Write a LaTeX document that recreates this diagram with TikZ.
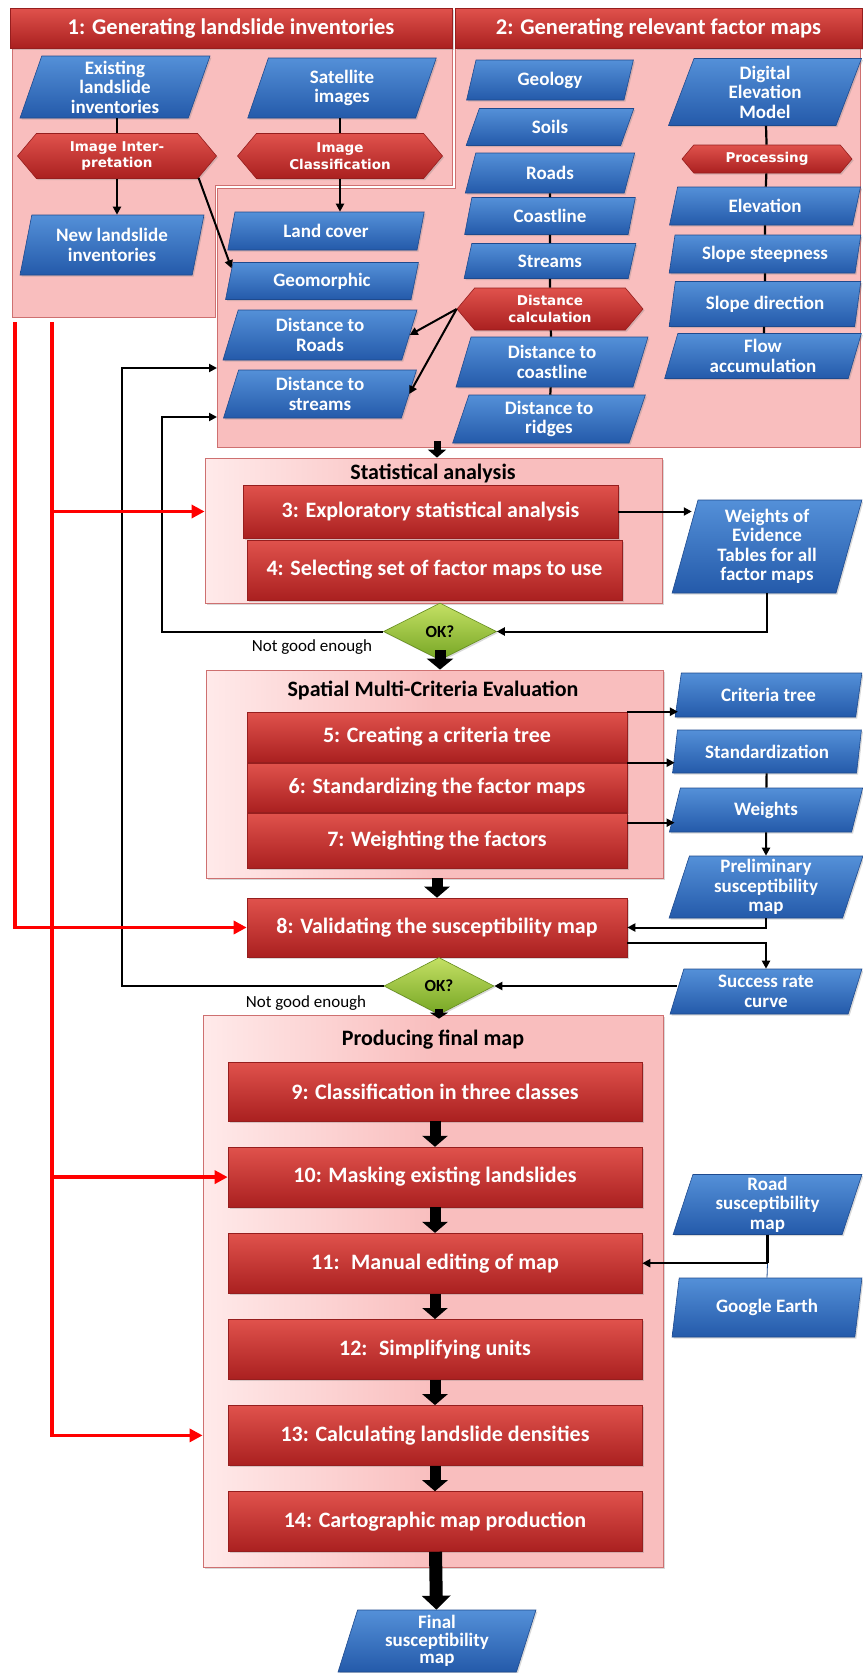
\documentclass[tikz,border=0pt]{standalone}
\usepackage{fontspec}
\setmainfont{Carlito}
\newfontfamily\hexfont{DejaVu Sans}
\usepackage{tikz}
\usetikzlibrary{arrows.meta, positioning, shapes.geometric, shapes.symbols, shadows}
\definecolor{redtop}{RGB}{224,82,76}
\definecolor{redbot}{RGB}{170,32,32}
\definecolor{rededge}{RGB}{150,30,30}
\definecolor{bluetop}{RGB}{84,144,216}
\definecolor{bluebot}{RGB}{36,90,170}
\definecolor{blueedge}{RGB}{30,74,142}
\definecolor{sectpink}{RGB}{249,190,190}
\definecolor{pinklt}{RGB}{255,234,234}
\definecolor{pinkedge}{RGB}{206,112,112}
\definecolor{greentop}{RGB}{196,224,100}
\definecolor{greenbot}{RGB}{118,166,36}
\definecolor{greenedge}{RGB}{100,140,30}
\definecolor{flowred}{RGB}{255,0,0}

\begin{document}
\begin{tikzpicture}[
  x=1pt, y=-1pt,
  node distance=25.5pt,
  wh/.style 2 args={minimum width=#1pt, minimum height=#2pt},
  lifted/.style={drop shadow={opacity=0.3, shadow xshift=1.5pt, shadow yshift=-1.5pt}},
  databox/.style={trapezium, trapezium left angle=76, trapezium right angle=104,
    trapezium stretches=true, draw=blueedge, line width=0.6pt,
    top color=bluetop, bottom color=bluebot, text=white, align=center,
    inner sep=0pt, lifted, font=\fontsize{19}{19.5}\selectfont\bfseries},
  stepbox/.style={rectangle, draw=rededge, line width=0.6pt,
    top color=redtop, bottom color=redbot, text=white, align=center,
    inner sep=0pt, lifted, font=\fontsize{22}{24}\selectfont\bfseries},
  procbox/.style={signal, signal from=nowhere, signal to=east and west,
    signal pointer angle=100, draw=rededge, line width=0.6pt,
    top color=redtop, bottom color=redbot, text=white, align=center,
    inner sep=0pt, lifted, font=\hexfont\fontsize{13.5}{16.5}\selectfont\bfseries},
  stage/.style={rectangle, draw=pinkedge, line width=0.8pt,
    left color=pinklt, right color=sectpink, middle color=sectpink, lifted},
  stagetitle/.style={font=\fontsize{22}{24}\selectfont\bfseries},
  okcheck/.style={diamond, draw=greenedge, line width=0.6pt, top color=greentop,
    bottom color=greenbot, inner sep=0pt, lifted,
    font=\fontsize{17}{18}\selectfont\bfseries},
  note/.style={font=\fontsize{17}{19}\selectfont},
  sectionbg/.style={fill=sectpink, draw=pinkedge, line width=1pt},
  link/.style={line width=2.2pt},
  arrow/.style={-{Triangle[length=8pt, width=8pt]}, line width=2pt},
  bigarrow/.style={-{Triangle[length=11pt, width=25pt]}, line width=11pt},
  redarrow/.style={-{Triangle[length=13pt, width=13pt]}, line width=3.5pt, color=flowred}
]
\useasboundingbox (0,0) rectangle (862,1673);

% areas of steps 1 and 2
\filldraw[sectionbg] (12,48) -- (452,48) -- (452,185) -- (215,185) -- (215,317) -- (12,317) -- cycle;
\filldraw[sectionbg] (455,48) -- (860,48) -- (860,447) -- (217,447) -- (217,188) -- (455,188) -- cycle;
\node[stepbox, wh={442}{40}, font=\fontsize{22.5}{24}\selectfont\bfseries] (bar1) at (231,28) {1: Generating landslide inventories};
\node[stepbox, wh={407}{40}, font=\fontsize{22.5}{24}\selectfont\bfseries] (bar2) at (658.5,28) {2: Generating relevant factor maps};

\coordinate (redA) at (15,322);
\coordinate (redB) at (52,322);
\coordinate (sec2in1) at (217,368);
\coordinate (sec2in2) at (217,417);
\coordinate (sec2foot) at (437,441);

% step 1
\node[databox, wh={190}{62}] (exist) at (115,87) {Existing\\landslide\\inventories};
\node[databox, wh={190}{60}] (sat) at (342,88) {Satellite\\images};
\node[procbox, wh={199}{45}] (interp) at (117,156) {Image Inter-\\pretation};
\node[procbox, wh={205}{45}] (classif) at (340,156) {Image\\Classification};
\node[databox, wh={184}{60}] (newinv) at (112,245) {New landslide\\inventories};

% step 2
\node[databox, wh={198}{38}] (landcov) at (326,231) {Land cover};
\node[databox, wh={193}{37}] (geomorph) at (322,281) {Geomorphic};
\node[databox, wh={194}{50}] (distroads) at (320,335) {Distance to\\Roads};
\node[databox, wh={193}{48}] (diststreams) at (320,394) {Distance to\\streams};

\node[databox, wh={168}{40}] (geology) at (550,80) {Geology};
\node[databox, wh={168}{37}] (soils) at (550,127) {Soils};
\node[databox, wh={170}{40}] (roads) at (550,173) {Roads};
\node[databox, wh={172}{37}] (coast) at (550,216) {Coastline};
\node[databox, wh={172}{35}] (streams) at (550,261) {Streams};
\node[procbox, wh={186}{42}] (distcalc) at (550,309) {Distance\\calculation};
\node[databox, wh={192}{50}] (distcoast) at (552,362) {Distance to\\coastline};
\node[databox, wh={193}{48}] (distridges) at (549,419) {Distance to\\ridges};

\node[databox, wh={195}{67}] (dem) at (765,92) {Digital\\Elevation\\Model};
\node[procbox, wh={170}{28}] (process) at (767,159) {Processing};
\node[databox, wh={192}{38}] (elev) at (765,206) {Elevation};
\node[databox, wh={192}{38}] (slopest) at (765,254) {Slope steepness};
\node[databox, wh={192}{45}] (slopedir) at (765,304) {Slope direction};
\node[databox, wh={197}{45}] (flowacc) at (763,356) {Flow\\accumulation};

% statistical analysis
\node[stage, wh={457}{145}] (stat) at (433.5,530.5) {};
\node[stagetitle] (stattitle) at (433,473) {Statistical analysis};
\node[stepbox, wh={375}{53}] (box3) at (430.5,511.5) {3: Exploratory statistical analysis};
\node[stepbox, wh={375}{60}] (box4) at (434.5,570) {4: Selecting set of factor maps to use};
\node[databox, wh={190}{93}] (woe) at (767,546.5) {Weights of\\Evidence\\Tables for all\\factor maps};
\node[okcheck, wh={113}{57}] (ok1) at (440,631.5) {OK?};
\node[note] (ng1) at (312,647) {Not good enough};

% multi-criteria evaluation
\node[stage, wh={457}{208}] (smce) at (434.5,774) {};
\node[stagetitle] (smcetitle) at (433,690) {Spatial Multi-Criteria Evaluation};
\node[stepbox, wh={380}{50}] (box5) at (437,737) {5: Creating a criteria tree};
\node[stepbox, wh={380}{49}] (box6) at (437,787.5) {6: Standardizing the factor maps};
\node[stepbox, wh={380}{55}] (box7) at (437,840.5) {7: Weighting the factors};
\node[databox, wh={187}{44}] (critree) at (768.5,695) {Criteria tree};
\node[databox, wh={189}{43}] (standard) at (767,751.5) {Standardization};
\node[databox, wh={194}{44}] (weights) at (766,810) {Weights};
\node[databox, wh={194}{62}] (prelim) at (766,887) {Preliminary\\susceptibility\\map};
\node[stepbox, wh={380}{59}] (box8) at (437,927.5) {8: Validating the susceptibility map};
\node[databox, wh={192}{45}] (success) at (766,991.5) {Success rate\\curve};
\node[okcheck, wh={110}{57}] (ok2) at (439,986) {OK?};
\node[note] (ng2) at (306,1003) {Not good enough};

% final map
\node[stage, wh={460}{552}] (fmap) at (433,1291) {};
\node[stagetitle] (fmaptitle) at (433,1040) {Producing final map};
\node[stepbox, wh={414}{59}] (box9) at (435,1091.5) {9: Classification in three classes};
\node[stepbox, wh={414}{60}, below=of box9] (box10) {10: Masking existing landslides};
\node[stepbox, wh={414}{60}, below=of box10] (box11) {11:~ Manual editing of map};
\node[stepbox, wh={414}{60}, below=of box11] (box12) {12:~ Simplifying units};
\node[stepbox, wh={414}{60}, below=of box12] (box13) {13: Calculating landslide densities};
\node[stepbox, wh={414}{60}, below=of box13] (box14) {14: Cartographic map production};
\node[databox, wh={189}{60}] (roadsus) at (767.5,1204.5) {Road\\susceptibility\\map};
\node[databox, wh={190}{59}] (gearth) at (767,1307.5) {Google Earth};
\node[databox, wh={198}{62}, font=\fontsize{19}{17.5}\selectfont\bfseries] (finalmap) at (437,1641) {Final\\susceptibility\\map};

% connectors in steps 1 and 2
\draw[link] (exist.south -| interp.north) -- (interp.north);
\draw[arrow] (interp.south) -- (interp.south |- newinv.north);
\draw[arrow] (interp.-15) -- (geomorph.172);
\draw[link] (sat.south -| classif.north) -- (classif.north);
\draw[arrow] (classif.south) -- (classif.south |- landcov.north);
\draw[link] (roads) -- (coast);
\draw[link] (coast) -- (streams);
\draw[link] (streams) -- (distcalc);
\draw[link] (distcalc) -- (distcoast);
\draw[link] (distcoast) -- (distridges);
\draw[arrow] (distcalc.west) -- (distroads.east);
\draw[arrow] (distcalc.west) -- (diststreams.east);
\draw[link] (dem) -- (process);
\draw[link] (process) -- (elev);
\draw[link] (elev) -- (slopest);
\draw[link] (slopest) -- (slopedir);
\draw[link] (slopedir) -- (flowacc);

% main flow
\draw[bigarrow, line width=7pt, -{Triangle[length=8pt, width=18pt]}] (sec2foot) -- (sec2foot |- stat.north);
\draw[arrow] (box3.east) -- ([xshift=7pt]box3.east -| woe.west);
\draw[arrow] (woe.south) |- (ok1.east);
\draw[arrow] (ok1.west) -| ([xshift=-55pt]sec2in2) -- (sec2in2);
\draw[bigarrow, -{Triangle[length=11pt, width=26pt]}] ([yshift=10pt]ok1.south) -- (ok1.south |- smce.north);
\draw[arrow] (box5.north east) -- (box5.north east -| critree.west);
\draw[arrow] (box6.north east) -- (box6.north east -| standard.west);
\draw[arrow] ([yshift=-10pt]box7.north east) -- ([yshift=-10pt]box7.north east -| weights.west);
\draw[link] (standard) -- (weights);
\draw[arrow] (weights) -- (prelim);
\draw[bigarrow] (box8.north |- smce.south) -- (box8.north);
\draw[arrow] (prelim.south) |- (box8.east);
\draw[arrow] ([yshift=-15pt]box8.east) -| (success.north);
\draw[arrow] (success.west |- ok2.east) -- (ok2.east);
\draw[arrow] (ok2.west) -| ([xshift=-95pt]sec2in1) -- (sec2in1);
\draw[bigarrow, line width=8pt, -{Triangle[length=6pt, width=18pt]}] ([yshift=6pt]ok2.south) -- ([yshift=-4pt]ok2.south |- fmap.north);
\foreach \a/\b in {box9/box10, box10/box11, box11/box12, box12/box13, box13/box14}
  \draw[bigarrow] (\a) -- (\b);
\draw[bigarrow, line width=13pt, -{Triangle[length=14pt, width=28pt]}] (box14) -- (finalmap);
\draw[link] (roadsus.south) -- (roadsus.south |- box11.east);
\draw[line width=0.8pt, blueedge] (roadsus.south |- box11.east) -- (gearth.north);
\draw[arrow] (roadsus.south |- box11.east) -- (box11.east);

% inventory feeds
\draw[redarrow] (redA) |- (box8.west);
\draw[redarrow] (redB) |- (box13.west -| fmap.west);
\draw[redarrow] (redB |- box3.west) -- (box3.west -| stat.west);
\draw[redarrow] (redB |- box10.west) -- (box10.west);
\end{tikzpicture}
\end{document}
